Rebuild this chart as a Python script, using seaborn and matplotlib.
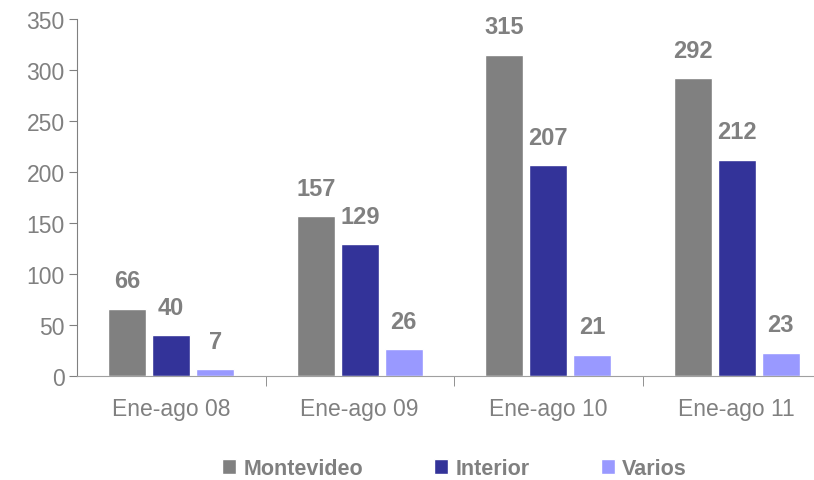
import matplotlib
matplotlib.use("Agg")
import matplotlib.pyplot as plt
import seaborn as sns
import pandas as pd
import numpy as np

# datos
periodos = ["Ene-ago 08", "Ene-ago 09", "Ene-ago 10", "Ene-ago 11"]
montevideo = [66, 157, 315, 292]
interior = [40, 129, 207, 212]
varios = [7, 26, 21, 23]
series = ["Montevideo", "Interior", "Varios"]
colores = ["#808080", "#333399", "#9999FF"]

GRIS = "#808080"

df = pd.DataFrame({
    "periodo": periodos * 3,
    "serie": [s for s in series for _ in periodos],
    "valor": montevideo + interior + varios,
})

sns.set_style("white")
plt.rcParams["font.family"] = ["Liberation Sans", "DejaVu Sans"]

fig = plt.figure(figsize=(8.14, 4.81), dpi=100)
ax = fig.add_axes([77 / 814, 104 / 481, 754 / 814, 357 / 481])

sns.barplot(data=df, x="periodo", y="valor", hue="serie", order=periodos,
            hue_order=series, palette=colores, width=0.7, gap=0.14,
            saturation=1, ax=ax)

# etiquetas de valor
for cont in ax.containers:
    for bar in cont:
        h = bar.get_height()
        ax.annotate(f"{int(round(h))}", (bar.get_x() + bar.get_width() / 2, h),
                    xytext=(0, 20), textcoords="offset points",
                    ha="center", va="center", fontsize=17, fontweight="bold",
                    color=GRIS)

ax.set_ylim(0, 350)
ax.set_xlim(-0.5, 3.5)
ax.set_yticks(np.arange(0, 351, 50))
ax.set_xlabel("")
ax.set_ylabel("")

for s in ["top", "right"]:
    ax.spines[s].set_visible(False)
ax.spines["left"].set_color(GRIS)
ax.spines["bottom"].set_color("#A0A0A0")

ax.tick_params(axis="y", which="major", length=6, color=GRIS, labelcolor=GRIS,
               labelsize=16.5, left=True, pad=3)
ax.tick_params(axis="x", which="major", length=0, labelcolor=GRIS,
               labelsize=16.5, pad=15)
ax.set_xticks([0.5, 1.5, 2.5], minor=True)
ax.tick_params(axis="x", which="minor", length=7, color=GRIS, bottom=True)

handles, labels = ax.get_legend_handles_labels()
ax.get_legend().remove()
leg = fig.legend(handles, labels, loc="center", bbox_to_anchor=(0.558, 0.024),
                 ncol=3, frameon=False, handlelength=0.65, handleheight=0.65,
                 handletextpad=0.35, columnspacing=3.3,
                 prop={"size": 15.5, "weight": "bold"})
for t in leg.get_texts():
    t.set_color(GRIS)

fig.savefig("out.png", dpi=100)
